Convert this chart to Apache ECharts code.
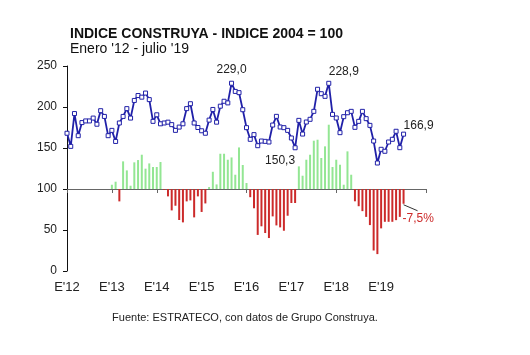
<!DOCTYPE html>
<html><head><meta charset="utf-8">
<script src="https://cdn.jsdelivr.net/npm/echarts@6/dist/echarts.min.js"></script>
<style>html,body{margin:0;padding:0;background:#fff}#c{width:530px;height:355px}</style>
</head><body><div id="c"></div>
<script>
// Monthly index, Jan 2012 (month 0) .. Jul 2019 (month 90)
const yearLabels = ["E'12","E'13","E'14","E'15","E'16","E'17","E'18","E'19"];
const indexValues = [
 168,152,192,165,181,183,183,186.5,179,195.5,188.5,165,
 171.5,158,180.5,188.5,198,186.5,208,214,212,217,209,182.5,
 190.5,179.5,180.5,181.5,178.5,171.5,175.5,179.5,198,204,180.5,175,
 171,168,184,197,181.5,201,207,205,229.0,219,217.5,196.7,
 174.8,160.6,166.3,152.8,158.5,158.1,157.3,178,188.6,175.6,174.8,171.5,
 162.2,150.3,183.7,167,181.7,185,194.7,221.6,216.2,213,228.9,191,
 186.6,168.7,188.2,193,194.7,175.2,182.5,194.7,185.8,177.6,158.5,131.7,
 148.4,146,157.3,160.6,170.4,150.4,166.9
];
// Year-on-year bars (plotted level around the 100 line), Jan 2013 .. Jul 2019
const barStartMonth = 12;
const barLevels = [
 105.2,108.9,84.9,133.7,122.7,104,132.5,135.3,141.8,124.8,131.2,126.8,
 126.8,132.9,99,91,73.9,79.6,62.2,59.3,84.9,86.1,65.4,91,
 72,82.4,102.4,121,105.6,143,143,135.7,138.5,117.4,150.7,129.3,
 107.3,90,76.5,44,54.5,46.3,40.2,66.6,55.6,53.2,49.1,67.4,
 82.9,82.9,127.6,116.2,135.7,141.8,158.9,160.1,137.8,152,178.4,126.8,
 135.7,129.6,105.2,145.9,117.4,85,79,73,66,56,25,20.6,
 52,60,60,60,62,66,82
];
const baseLevel = 100;
const pointLabels = [
  {m:44, pos:'top', align:'center', dist:5},
  {m:61, pos:'bottom', align:'right', dist:4},
  {m:70, pos:'top', align:'left', dist:3},
  {m:90, pos:'top', align:'left', dist:0}
];
const lastBarNote = '-7,5%';
const titleText = 'INDICE CONSTRUYA - INDICE 2004 = 100';
const subtitleText = "Enero '12 - julio '19";
const sourceText = 'Fuente: ESTRATECO, con datos de Grupo Construya.';

const FONT = '"Liberation Sans", Arial, sans-serif';
const BLUE = '#2020a8', GREEN = '#93e693', RED = '#cc2a2a';
const fmt = v => v.toFixed(1).replace('.', ',');

const lineData = indexValues.map((v, i) => {
  const pl = pointLabels.find(p => p.m === i);
  const d = {value: [i, v]};
  if (pl) d.label = {show: true, position: pl.pos, align: pl.align, distance: pl.dist,
    formatter: () => fmt(v), fontSize: 12, color: '#222', fontFamily: FONT};
  return d;
});
const barData = barLevels.map((v, k) => ({
  value: [barStartMonth + k, v - baseLevel],
  itemStyle: {color: v >= baseLevel ? GREEN : RED}
}));

const gridBox = {left: 67, right: 104, top: 66, bottom: 84};
const chart = echarts.init(document.getElementById('c'), null, {renderer: 'canvas'});
chart.setOption({
  animation: false,
  backgroundColor: '#fff',
  title: [
    {text: titleText, left: 70, top: 27, padding: 0,
     textStyle: {fontFamily: FONT, fontSize: 14, fontWeight: 'bold', color: '#111'}},
    {text: subtitleText, left: 70, top: 42, padding: 0,
     textStyle: {fontFamily: FONT, fontSize: 14, fontWeight: 'normal', color: '#111'}}
  ],
  grid: [Object.assign({}, gridBox), Object.assign({}, gridBox)],
  xAxis: [
    {gridIndex: 0, type: 'value', min: 0, max: 96, interval: 12,
     axisLine: {show: false}, axisTick: {show: false}, splitLine: {show: false},
     axisLabel: {fontFamily: FONT, fontSize: 13, color: '#222', margin: 10,
       formatter: v => yearLabels[v / 12] || ''}},
    {gridIndex: 1, type: 'value', min: 0, max: 96, interval: 12,
     axisLine: {show: true, onZero: true, lineStyle: {color: '#666', width: 1}},
     axisTick: {show: true, inside: false, length: 4, lineStyle: {color: '#666'}},
     axisLabel: {show: false}, splitLine: {show: false}}
  ],
  yAxis: [
    {gridIndex: 0, type: 'value', min: 0, max: 250, interval: 50,
     axisLine: {show: true, lineStyle: {color: '#111', width: 1}},
     axisTick: {show: true, inside: false, length: 4, lineStyle: {color: '#111'}},
     splitLine: {show: false},
     axisLabel: {fontFamily: FONT, fontSize: 12, color: '#222', margin: 10}},
    {gridIndex: 1, type: 'value', min: -100, max: 150, show: false, splitLine: {show: false}}
  ],
  series: [
    {type: 'bar', xAxisIndex: 1, yAxisIndex: 1, data: barData, barWidth: 2, z: 2},
    {type: 'line', xAxisIndex: 0, yAxisIndex: 0, data: lineData, z: 5,
     symbol: 'rect', symbolSize: 4, showAllSymbol: true,
     lineStyle: {color: BLUE, width: 1.8},
     itemStyle: {color: '#fff', borderColor: BLUE, borderWidth: 1}}
  ]
});

const lastIdx = barLevels.length - 1;
const p = chart.convertToPixel({xAxisIndex: 1, yAxisIndex: 1},
  [barStartMonth + lastIdx, barLevels[lastIdx] - baseLevel]);
chart.setOption({
  graphic: [
    {type: 'line', shape: {x1: p[0], y1: p[1] + 1, x2: p[0] + 14, y2: p[1] + 7},
     style: {stroke: '#333', lineWidth: 1}, silent: true},
    {type: 'text', x: p[0] - 1, y: p[1] + 9,
     style: {text: lastBarNote, fill: RED, font: '12px ' + FONT, textAlign: 'left', textVerticalAlign: 'top'}},
    {type: 'text', x: 245, y: 318,
     style: {text: sourceText, fill: '#222', font: '11px ' + FONT, textAlign: 'center', textVerticalAlign: 'middle'}}
  ]
});
</script></body></html>
